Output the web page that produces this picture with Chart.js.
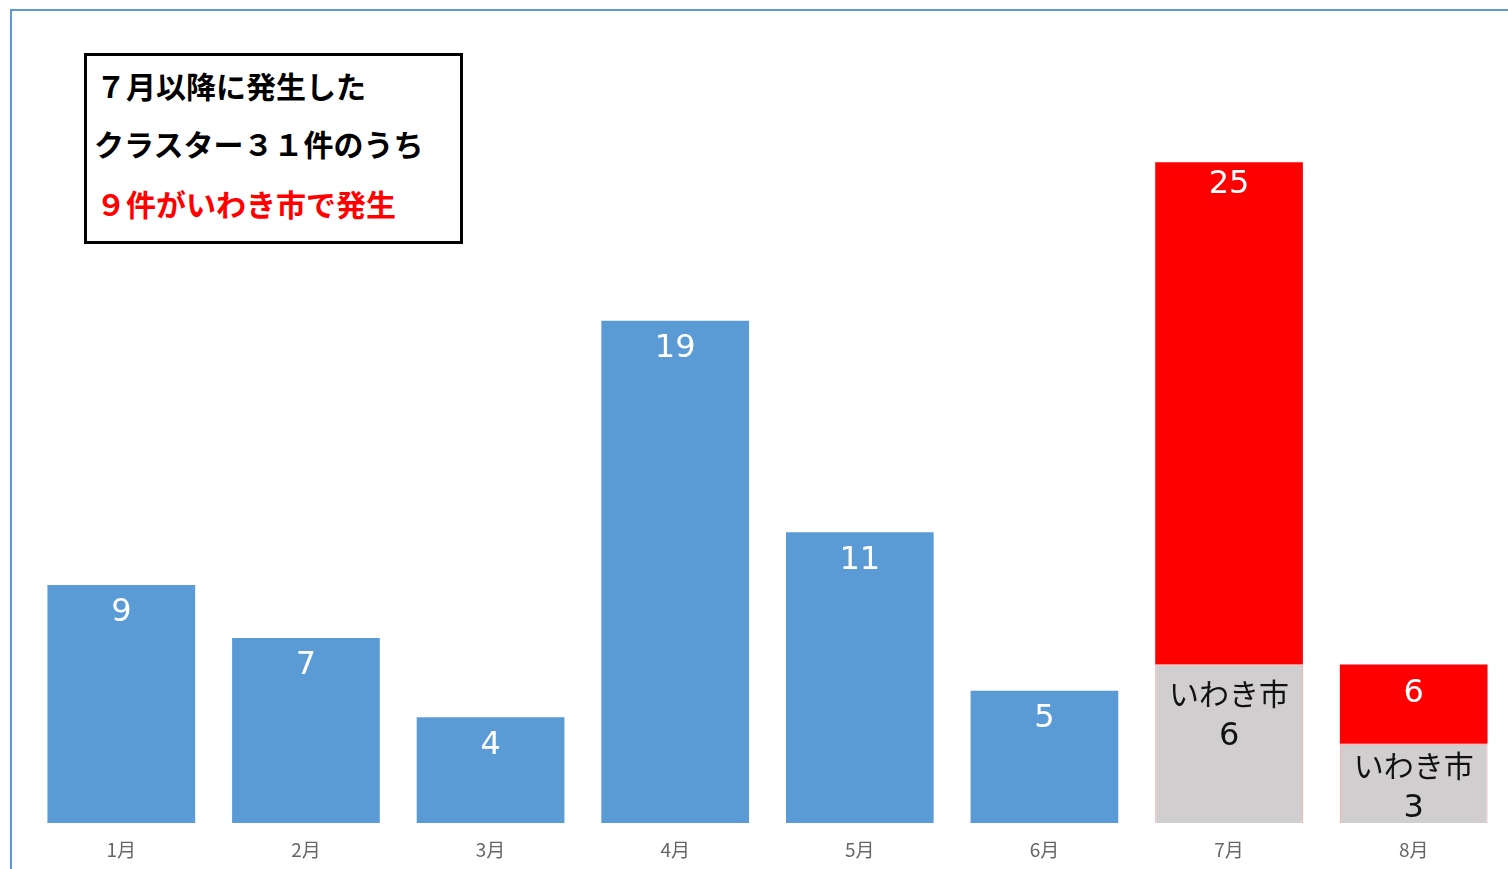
<!DOCTYPE html>
<html>
<head>
<meta charset="utf-8">
<script src="https://cdn.jsdelivr.net/npm/chart.js@4/dist/chart.umd.min.js"></script>
<style>
  html, body { margin:0; padding:0; background:#fff; overflow:hidden; }
  #wrap { position:relative; width:1508px; height:869px; }
  #frame { position:absolute; left:10px; top:9px; width:1600px; height:1000px; border:2px solid #5B9BD5; box-sizing:border-box; pointer-events:none; }
  #note { position:absolute; left:84px; top:53px; width:379px; height:191px; border:3px solid #000; box-sizing:border-box; background:#fff;
          font-family:"Noto Sans CJK JP", sans-serif; font-weight:700; font-size:30px; line-height:30px; }
  #note div { position:absolute; white-space:nowrap; }
  canvas { position:absolute; left:0; top:0; }
</style>
</head>
<body>
<div id="wrap">
  <canvas id="c" width="1508" height="869"></canvas>
  <div id="frame"></div>
  <div id="note">
    <div style="left:9px; top:14px; color:#000;">７月以降に発生した</div>
    <div style="left:7px; top:72px; color:#000;">クラスター３１件のうち</div>
    <div style="left:9px; top:132px; color:#FF0000;">９件がいわき市で発生</div>
  </div>
</div>
<script>
const months = ['1月','2月','3月','4月','5月','6月','7月','8月'];
const clusterCounts = [9, 7, 4, 19, 11, 5, null, null];      // Jan-Jun totals
const totalCounts   = [null, null, null, null, null, null, 25, 6]; // Jul-Aug totals
const iwakiCounts   = [null, null, null, null, null, null, 6, 3];  // of which Iwaki city

const otherCounts = totalCounts.map((t, i) => t == null ? null : t - iwakiCounts[i]);

const numFont = '32px "DejaVu Sans", sans-serif';
const jpFont = '30px "Noto Sans CJK JP", sans-serif';

const labelPlugin = {
  id: 'barLabels',
  afterDatasetsDraw(chart) {
    const ctx = chart.ctx;
    ctx.save();
    ctx.textAlign = 'center';
    ctx.textBaseline = 'middle';
    chart.getDatasetMeta(0).data.forEach((bar, i) => {
      if (clusterCounts[i] == null) return;
      ctx.fillStyle = '#fff';
      ctx.font = numFont;
      ctx.fillText(String(clusterCounts[i]), bar.x, bar.y + 28);
    });
    chart.getDatasetMeta(1).data.forEach((bar, i) => {
      if (iwakiCounts[i] == null) return;
      const h = bar.base - bar.y;
      const y1 = h > 120 ? bar.y + 29 : (bar.y + bar.base) / 2 - 18;
      ctx.fillStyle = '#111';
      ctx.font = jpFont;
      ctx.fillText('いわき市', bar.x, y1);
      ctx.font = numFont;
      ctx.fillText(String(iwakiCounts[i]), bar.x, y1 + 43);
    });
    chart.getDatasetMeta(2).data.forEach((bar, i) => {
      if (totalCounts[i] == null) return;
      const h = bar.base - bar.y;
      ctx.fillStyle = '#fff';
      ctx.font = numFont;
      ctx.fillText(String(totalCounts[i]), bar.x, bar.y + (h > 200 ? 23 : 29));
    });
    ctx.restore();
  }
};

new Chart(document.getElementById('c'), {
  type: 'bar',
  data: {
    labels: months,
    datasets: [
      { label: 'クラスター', data: clusterCounts, backgroundColor: '#5B9BD5', borderWidth: 0, categoryPercentage: 0.8, barPercentage: 1.0 },
      { label: 'いわき市', data: iwakiCounts, backgroundColor: '#D0CECE', borderColor: '#F4A0A0', borderWidth: 1, categoryPercentage: 0.8, barPercentage: 1.0 },
      { label: 'その他', data: otherCounts, backgroundColor: '#FF0000', borderWidth: 0, categoryPercentage: 0.8, barPercentage: 1.0 }
    ]
  },
  options: {
    responsive: false,
    animation: false,
    layout: { padding: { left: 29, right: 2, top: 30, bottom: 0 } },
    plugins: { legend: { display: false }, tooltip: { enabled: false } },
    scales: {
      x: {
        stacked: true,
        grid: { display: false, drawTicks: false, tickLength: 0 },
        border: { display: false },
        ticks: { color: '#666666', font: { family: '"Noto Sans CJK JP", sans-serif', size: 19 }, padding: 15 },
        afterFit(scale) { scale.height = 46; }
      },
      y: {
        stacked: true,
        display: false,
        min: 0,
        max: 30
      }
    }
  },
  plugins: [labelPlugin]
});
</script>
</body>
</html>
